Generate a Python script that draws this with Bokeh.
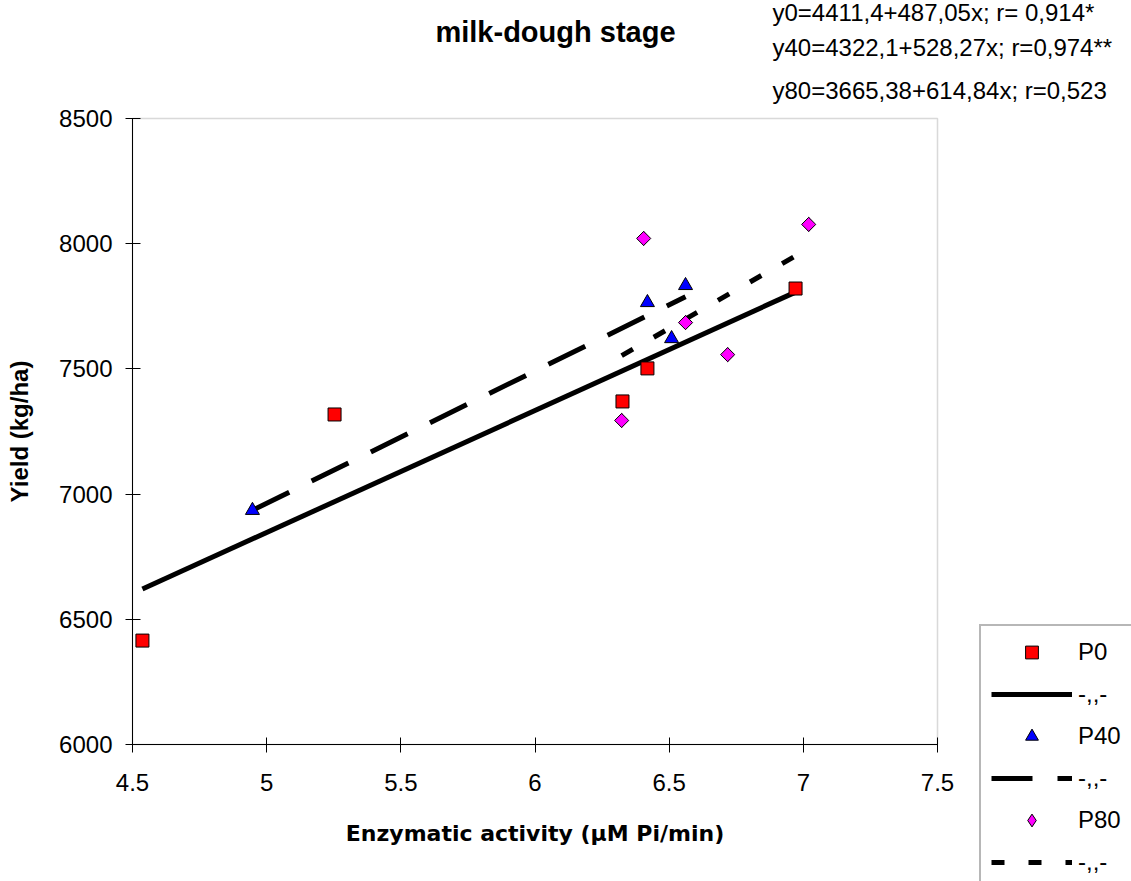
import math
from bokeh.plotting import figure
from bokeh.models import (Range1d, FixedTicker, NumeralTickFormatter, Label,
                          Legend, LegendItem, BoxAnnotation)
from bokeh.embed import file_html
from bokeh.resources import INLINE

# ---- data ----
p0_x = [4.537, 5.253, 6.326, 6.419, 6.971]
p0_y = [6415, 7318, 7370, 7502, 7821]
p40_x = [4.947, 6.419, 6.561, 6.509]
p40_y = [6935, 7765, 7833, 7621]
p80_x = [6.405, 6.561, 6.718, 6.323, 7.020]
p80_y = [8021, 7685, 7557, 7294, 8077]

# regression equations printed on the chart (intercept, slope)
trend_intercepts = [4411.4, 4322.1, 3665.38]
trend_slopes = [487.05, 528.27, 614.84]
equation_texts = ["y0=4411,4+487,05x; r= 0,914*",
                  "y40=4322,1+528,27x; r=0,974**",
                  "y80=3665,38+614,84x; r=0,523"]
chart_title = "milk-dough stage"
series_names = ["P0", "P40", "P80"]
trend_label = "-,,-"
x_ticks = [4.5, 5, 5.5, 6, 6.5, 7, 7.5]
y_ticks = [6000, 6500, 7000, 7500, 8000, 8500]

FONT = "Liberation Sans"

# ---- page geometry (pixels) ----
W, H = 1131, 881
BOX_L, BOX_R, BOX_T, BOX_B = 132, 937, 118, 744   # plot box on the page
x0, x1 = x_ticks[0], x_ticks[-1]
y0, y1 = y_ticks[0], y_ticks[-1]
xs = (x1 - x0) / (BOX_R - BOX_L)
ys = (y1 - y0) / (BOX_B - BOX_T)
x_range = Range1d(x0 - BOX_L * xs, x1 + (W - BOX_R) * xs)
y_range = Range1d(y0 - (H - BOX_B) * ys, y1 + BOX_T * ys)

p = figure(width=W, height=H, x_range=x_range, y_range=y_range,
           output_backend="svg", toolbar_location=None, title_location=None,
           min_border=0)
p.background_fill_color = "white"
p.border_fill_color = "white"
p.outline_line_color = None
p.xgrid.visible = False
p.ygrid.visible = False

# plot-box border (gray, as in the reference)
p.add_layout(BoxAnnotation(left=x0, right=x1, bottom=y0, top=y1,
                           fill_color=None, line_color="#808080",
                           line_width=1.5, level="underlay"))

for ax in (p.xaxis[0], p.yaxis[0]):
    ax.axis_line_color = "black"
    ax.major_tick_line_color = "black"
    ax.minor_tick_line_color = None
    ax.major_label_text_font = FONT
    ax.major_label_text_font_size = "24px"
    ax.major_label_text_color = "black"
    ax.axis_label_text_font_style = "bold"
    ax.axis_label_text_color = "black"

p.xaxis.fixed_location = y0
p.yaxis.fixed_location = x0
p.xaxis.bounds = (x0, x1)
p.yaxis.bounds = (y0, y1)
p.xaxis.ticker = FixedTicker(ticks=x_ticks)
p.yaxis.ticker = FixedTicker(ticks=y_ticks)
p.xaxis.formatter = NumeralTickFormatter(format="0.[0]")
p.yaxis.formatter = NumeralTickFormatter(format="0")
p.xaxis.major_tick_in = 7
p.xaxis.major_tick_out = 8
p.yaxis.major_tick_in = 8
p.yaxis.major_tick_out = 7
p.xaxis.major_label_standoff = 21
p.yaxis.major_label_standoff = 13

p.xaxis.axis_label = "Enzymatic activity (µM Pi/min)"
p.xaxis.axis_label_text_font = "DejaVu Sans"
p.xaxis.axis_label_text_font_size = "22px"
p.xaxis.axis_label_standoff = 27
p.yaxis.axis_label = "Yield (kg/ha)"
p.yaxis.axis_label_text_font = FONT
p.yaxis.axis_label_text_font_size = "24px"
p.yaxis.axis_label_standoff = 23

series = [(p0_x, p0_y), (p40_x, p40_y), (p80_x, p80_y)]
markers = ["square", "triangle", "square"]
angles = [0, 0, math.pi / 4]
fills = ["#ff0000", "#0000ff", "#ff00ff"]
sizes = [13, 14, 10]
dashes = ["solid", "41 25", "13 24"]

items = []
for i, (xs_, ys_) in enumerate(series):
    lx = [min(xs_), max(xs_)]
    ly = [trend_intercepts[i] + trend_slopes[i] * v for v in lx]
    lr = p.line(lx, ly, line_color="black", line_width=5,
                line_dash=dashes[i])
    leg_r = None
    if angles[i] != 0:
        # diamond glyph underneath (hidden by the rotated square) that the
        # legend uses, since legend swatches ignore the marker angle
        leg_r = p.scatter(xs_, ys_, marker="diamond", size=14,
                          fill_color=fills[i], line_color="black",
                          line_width=1)
    sr = p.scatter(xs_, ys_, marker=markers[i], size=sizes[i],
                   angle=angles[i], fill_color=fills[i],
                   line_color="black", line_width=1)
    items.append(LegendItem(label=series_names[i],
                            renderers=[leg_r if leg_r is not None else sr]))
    items.append(LegendItem(label=trend_label, renderers=[lr]))

# legend box: left edge at x=979, top at y=628 (runs off the page bottom)
legend = Legend(items=items, location=(979, -9))
legend.label_text_font = FONT
legend.label_text_font_size = "24px"
legend.label_text_color = "black"
legend.glyph_width = 81
legend.glyph_height = 32
legend.label_height = 32
legend.label_width = 60
legend.label_standoff = 6
legend.spacing = 10
legend.padding = 10
legend.margin = 0
legend.border_line_color = "#707070"
legend.border_line_width = 2
legend.background_fill_color = "white"
legend.background_fill_alpha = 1
p.add_layout(legend, "center")

# title and regression equations (screen units: y measured from the bottom)
p.add_layout(Label(x=555, y=H - 31, x_units="screen", y_units="screen",
                   text=chart_title, text_font=FONT, text_font_size="29px",
                   text_font_style="bold", text_align="center",
                   text_baseline="middle", text_color="black"))
for t, mid in zip(equation_texts, [12, 47, 90]):
    p.add_layout(Label(x=772, y=H - mid, x_units="screen", y_units="screen",
                       text=t, text_font=FONT, text_font_size="24px",
                       text_align="left", text_baseline="middle",
                       text_color="black"))

open("out.html", "w").write(file_html(p, INLINE))
